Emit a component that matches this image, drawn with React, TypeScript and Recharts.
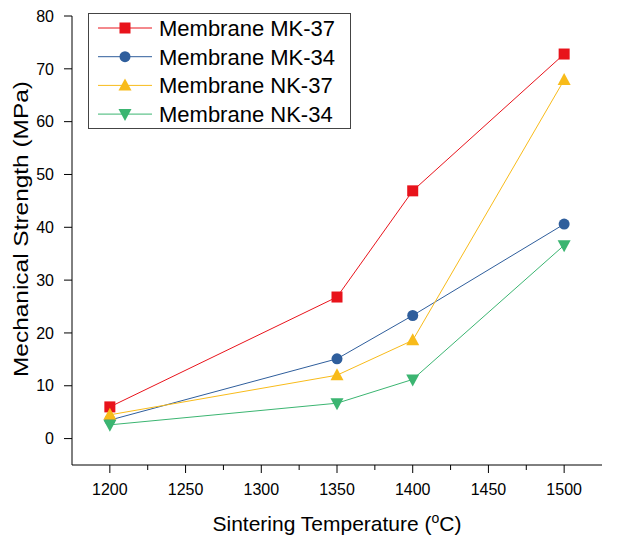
import React from 'react';
import { LineChart, Line, XAxis, YAxis, Legend } from 'recharts';

const temps = [1200, 1350, 1400, 1500];
const mk37 = [6.0, 26.8, 46.9, 72.8];
const mk34 = [3.5, 15.1, 23.3, 40.6];
const nk37 = [4.5, 12.0, 18.6, 67.9];
const nk34 = [2.6, 6.7, 11.2, 36.6];

const xTicks = [1200, 1225, 1250, 1275, 1300, 1325, 1350, 1375, 1400, 1425, 1450, 1475, 1500];
const yTicks = [0, 10, 20, 30, 40, 50, 60, 70, 80];

const series = [
  { key: 'mk37', name: 'Membrane MK-37', color: '#E8131B', shape: 'square' },
  { key: 'mk34', name: 'Membrane MK-34', color: '#2F5E9C', shape: 'circle' },
  { key: 'nk37', name: 'Membrane NK-37', color: '#F8BB1A', shape: 'up' },
  { key: 'nk34', name: 'Membrane NK-34', color: '#3BB571', shape: 'down' },
];

const data = temps.map((t, i) => ({ t, mk37: mk37[i], mk34: mk34[i], nk37: nk37[i], nk34: nk34[i] }));

const FONT = '"Liberation Sans", Arial, sans-serif';

const marker = (shape: string, color: string, cx: number, cy: number, key?: string) => {
  if (shape === 'square') return <rect key={key} x={cx - 5.5} y={cy - 5.5} width={11} height={11} fill={color} />;
  if (shape === 'circle') return <circle key={key} cx={cx} cy={cy} r={5.5} fill={color} />;
  if (shape === 'up')
    return <polygon key={key} points={`${cx},${cy - 7} ${cx + 6.5},${cy + 5} ${cx - 6.5},${cy + 5}`} fill={color} />;
  return <polygon key={key} points={`${cx},${cy + 7} ${cx + 6.5},${cy - 5} ${cx - 6.5},${cy - 5}`} fill={color} />;
};

const XTick = (props: any) => {
  const { x, y, payload } = props;
  const major = payload.value % 50 === 0;
  return (
    <g>
      <line x1={x} x2={x} y1={y} y2={y + (major ? 8 : 5)} stroke="#000" />
      {major && (
        <text x={x} y={y + 30} textAnchor="middle" fontSize={16} fill="#000" fontFamily={FONT}>
          {payload.value}
        </text>
      )}
    </g>
  );
};

const xLabel = () => (
  <text x={337} y={531} textAnchor="middle" fontSize={21} fill="#000" fontFamily={FONT}>
    Sintering Temperature (
    <tspan dy={-8} fontSize={14}>o</tspan>
    <tspan dy={8}>C)</tspan>
  </text>
);

const yLabel = () => (
  <text
    x={0}
    y={0}
    transform="translate(28,229) rotate(-90)"
    textAnchor="middle"
    fontSize={21}
    fill="#000"
    fontFamily={FONT}
    textLength={296}
    lengthAdjust="spacingAndGlyphs"
  >
    Mechanical Strength (MPa)
  </text>
);

const LegendBox = () => (
  <svg width={263} height={116}>
    <rect x={0.5} y={0.5} width={262} height={115} fill="#fff" stroke="#444" />
    {series.map((s, i) => {
      const cy = 15 + i * 28.7;
      return (
        <g key={s.key}>
          <line x1={10} x2={64} y1={cy} y2={cy} stroke={s.color} />
          {marker(s.shape, s.color, 37, cy)}
          <text x={71} y={cy + 8} fontSize={22} fill="#000" fontFamily={FONT}>
            {s.name}
          </text>
        </g>
      );
    })}
  </svg>
);

export default function App() {
  return (
    <div style={{ position: 'absolute', left: 0, top: 0, width: 627, height: 540, background: '#fff' }}>
      <LineChart width={627} height={540} data={data} margin={{ top: 16, right: 25, left: 0, bottom: 0 }}>
        <XAxis
          dataKey="t"
          type="number"
          domain={[1175, 1525]}
          ticks={xTicks}
          interval={0}
          height={75}
          tickSize={0}
          tickMargin={0}
          tickLine={false}
          tick={<XTick />}
          axisLine={{ stroke: '#000' }}
          label={xLabel}
        />
        <YAxis
          type="number"
          domain={[-5, 80]}
          ticks={yTicks}
          interval={0}
          width={72}
          tickSize={8}
          tickMargin={10}
          tick={{ fontSize: 16, fill: '#000', fontFamily: FONT }}
          tickLine={{ stroke: '#000' }}
          axisLine={{ stroke: '#000' }}
          label={yLabel}
        />
        <Legend
          layout="horizontal"
          verticalAlign="middle"
          align="center"
          wrapperStyle={{ position: 'absolute', left: 88, top: 13, width: 263, height: 116 }}
          content={<LegendBox />}
        />
        {series.map((s) => (
          <Line
            key={s.key}
            dataKey={s.key}
            name={s.name}
            stroke={s.color}
            strokeWidth={1}
            isAnimationActive={false}
            dot={(p: any) => marker(s.shape, s.color, p.cx, p.cy, `${s.key}-${p.index}`)}
            activeDot={false}
          />
        ))}
      </LineChart>
    </div>
  );
}
